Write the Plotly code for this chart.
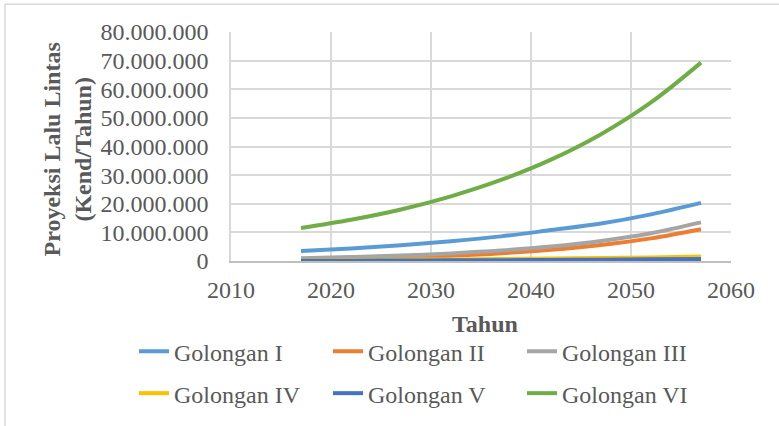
import plotly.graph_objects as go

# Traffic projection per vehicle class (vehicles per year)
years = [2017, 2022, 2027, 2032, 2037, 2042, 2047, 2052, 2057]
golongan_1 = [3_500_000, 4_400_000, 5_500_000, 6_900_000, 8_600_000, 10_800_000, 13_100_000, 16_300_000, 20_300_000]
golongan_2 = [600_000, 850_000, 1_200_000, 1_800_000, 2_700_000, 3_900_000, 5_600_000, 7_900_000, 11_100_000]
golongan_3 = [1_000_000, 1_380_000, 1_900_000, 2_650_000, 3_650_000, 5_050_000, 7_000_000, 9_700_000, 13_500_000]
golongan_4 = [300_000, 370_000, 450_000, 550_000, 680_000, 830_000, 1_020_000, 1_250_000, 1_550_000]
golongan_5 = [100_000, 130_000, 170_000, 220_000, 280_000, 360_000, 450_000, 570_000, 720_000]
golongan_6 = [11_500_000, 14_400_000, 18_000_000, 22_600_000, 28_300_000, 35_400_000, 44_300_000, 55_400_000, 69_300_000]

series = [
    ("Golongan I", golongan_1, "#5B9BD5", "legend"),
    ("Golongan II", golongan_2, "#ED7D31", "legend"),
    ("Golongan III", golongan_3, "#A5A5A5", "legend"),
    ("Golongan IV", golongan_4, "#FFC000", "legend2"),
    ("Golongan V", golongan_5, "#4472C4", "legend2"),
    ("Golongan VI", golongan_6, "#70AD47", "legend2"),
]

FONT = "Liberation Serif, Times New Roman, serif"
GREY = "#595959"

fig = go.Figure()
for name, vals, color, lg in series:
    fig.add_trace(go.Scatter(
        x=years, y=vals, name=name, mode="lines",
        line=dict(color=color, width=4, shape="spline", smoothing=1.0),
        legend=lg,
    ))

legend_common = dict(
    orientation="h", xanchor="left", yanchor="middle",
    font=dict(family=FONT, size=24, color=GREY),
    entrywidthmode="pixels", entrywidth=149,
    bgcolor="rgba(0,0,0,0)", tracegroupgap=0, itemwidth=30,
)

fig.update_layout(
    width=779, height=426,
    margin=dict(l=231, r=48, t=32, b=164),
    paper_bgcolor="white", plot_bgcolor="white",
    separators=",.",
    font=dict(family=FONT, size=24, color=GREY),
    xaxis=dict(
        range=[2010, 2060], dtick=10, tick0=2010,
        showgrid=True, gridcolor="#D9D9D9", gridwidth=1.5,
        showline=True, linecolor="#BFBFBF", linewidth=1.5,
        zeroline=False, ticks="", ticklabelstandoff=6,
        tickfont=dict(family=FONT, size=24, color=GREY),
    ),
    yaxis=dict(
        range=[0, 80_000_000], dtick=10_000_000,
        showgrid=True, gridcolor="#D9D9D9", gridwidth=1.5,
        zeroline=False, showline=True, linecolor="#D9D9D9", linewidth=1.5,
        ticks="", tickformat=",d", ticklabelstandoff=16,
        tickfont=dict(family=FONT, size=24, color=GREY),
    ),
    legend=dict(x=-0.194, y=-0.39, **legend_common),
    legend2=dict(x=-0.194, y=-0.572, **legend_common),
    showlegend=True,
    annotations=[
        dict(text="<b>Proyeksi Lalu Lintas<br>(Kend/Tahun)</b>", textangle=-90,
             xref="paper", yref="paper", x=-0.328, y=0.487,
             xanchor="center", yanchor="middle", showarrow=False,
             font=dict(family=FONT, size=24, color=GREY)),
        dict(text="<b>Tahun</b>", xref="paper", yref="paper", x=0.508, y=-0.274,
             xanchor="center", yanchor="middle", showarrow=False,
             font=dict(family=FONT, size=24, color=GREY)),
    ],
    shapes=[
        dict(type="rect", xref="paper", yref="paper",
             x0=-0.452, x1=1.2, y0=-0.8, y1=1.1217,
             line=dict(color="#D9D9D9", width=1.5), fillcolor="rgba(0,0,0,0)",
             layer="below"),
    ],
)

fig.write_html("out.html")
